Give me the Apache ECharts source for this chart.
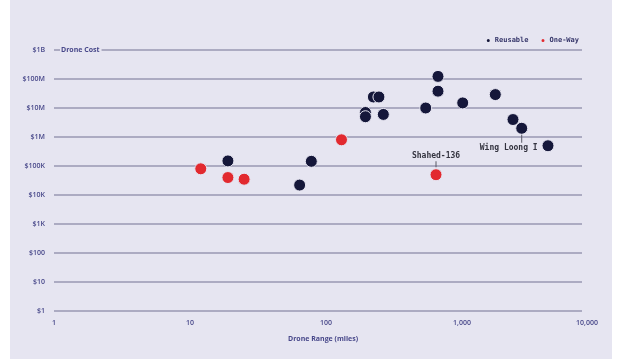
<!DOCTYPE html>
<html>
<head>
<meta charset="utf-8">
<script src="https://cdn.jsdelivr.net/npm/echarts@6/dist/echarts.min.js"></script>
<style>
  html, body { margin: 0; padding: 0; background: #ffffff; }
  #c { width: 624px; height: 359px;
       background: linear-gradient(to right, #ffffff 0, #ffffff 10px, #e6e5f1 10px, #e6e5f1 612px, #ffffff 612px); }
</style>
</head>
<body>
<div id="c"></div>
<script>
// ---- data ----
const reusableRange = [19, 64, 78, 223, 245, 195, 195, 264, 541, 666, 666, 1012, 1758, 2371, 2748, 4288];
const reusableCost  = [150000, 22000, 145000, 24000000, 24000000, 7000000, 5000000, 6000000, 10000000, 123000000, 38000000, 15000000, 29000000, 4000000, 2000000, 500000];
const reusableNames = ['', '', '', '', '', '', '', '', '', '', '', '', '', '', 'Wing Loong I', ''];

const oneWayRange = [12, 19, 25, 130, 644];
const oneWayCost  = [80000, 40000, 35000, 800000, 50000];
const oneWayNames = ['', '', '', '', 'Shahed-136'];

const xTickLabels = ['1', '10', '100', '1,000', '10,000'];
const yTickLabels = ['$1', '$10', '$100', '$1K', '$10K', '$100K', '$1M', '$10M', '$100M', '$1B'];

const seriesNames = ['Reusable', 'One-Way'];
const xAxisTitle = 'Drone Range (miles)';
const yAxisTitle = 'Drone Cost';

// ---- styles ----
const BG = '#e6e5f1';
const NAVY = '#15173a';
const RED = '#e2292f';
const TXT = '#48488a';
const GRID = '#acabc2';
const MONO = '"DejaVu Sans Mono", "Liberation Mono", monospace';
const SANS = '"Open Sans", "Noto Sans", sans-serif';

const annRich = {
  l: { width: 1, height: 8, backgroundColor: '#5a5a66' },
  t: { fontFamily: MONO, fontSize: 8, color: '#33333f', fontWeight: 'bold', lineHeight: 10 },
  tw: { fontFamily: MONO, fontSize: 8, color: '#33333f', fontWeight: 'bold', lineHeight: 10, padding: [0, 26, 0, 0] },
  ls: { width: 1, height: 6, backgroundColor: '#5a5a66' }
};

function buildData(rangeArr, costArr, names, below) {
  return rangeArr.map((x, i) => {
    const item = { value: [x, costArr[i]] };
    if (names[i]) {
      item.label = below ? {
        show: true, position: 'bottom', distance: 0,
        formatter: '{l|}\n{tw|' + names[i] + '}', rich: annRich
      } : {
        show: true, position: 'top', distance: 1,
        formatter: '{t|' + names[i] + '}\n{ls|}', rich: annRich
      };
    }
    return item;
  });
}

const chart = echarts.init(document.getElementById('c'), null, { renderer: 'canvas' });
chart.setOption({
  backgroundColor: 'transparent',
  animation: false,
  legend: {
    right: 40, top: 32,
    icon: 'circle', itemWidth: 5, itemHeight: 5, itemGap: 11,
    textStyle: { fontFamily: MONO, fontSize: 7, fontWeight: 'bold', color: '#36366a', padding: [0, 0, 0, -1] },
    data: seriesNames
  },
  grid: [
    { left: 54, right: 42, top: 50, bottom: 48 },
    { left: 54, right: 26, top: 50, bottom: 48 }
  ],
  xAxis: [
    { gridIndex: 0, type: 'log', min: 1, max: 10000, show: false },
    {
      gridIndex: 1, type: 'log', min: 1, max: 10000,
      axisLine: { show: false }, axisTick: { show: false }, splitLine: { show: false },
      axisLabel: {
        margin: 8, fontFamily: SANS, fontSize: 7, fontWeight: 600, color: TXT,
        alignMaxLabel: 'right',
        formatter: v => xTickLabels[Math.round(Math.log10(v))]
      },
      name: xAxisTitle, nameLocation: 'middle', nameGap: 24,
      nameTextStyle: { fontFamily: SANS, fontSize: 7, fontWeight: 700, color: TXT, padding: [0, 6, 0, 0] }
    }
  ],
  yAxis: [
    {
      gridIndex: 0, type: 'log', min: 1, max: 1e9,
      axisLine: { show: false }, axisTick: { show: false },
      splitLine: { show: true, lineStyle: { color: GRID, width: 2 } },
      axisLabel: {
        margin: 9, fontFamily: SANS, fontSize: 7, fontWeight: 600, color: TXT,
        formatter: v => yTickLabels[Math.round(Math.log10(v))]
      },
      name: '{a|}{b|' + yAxisTitle + '}', nameLocation: 'end', nameGap: 0,
      nameTextStyle: {
        align: 'left', verticalAlign: 'middle',
        rich: {
          a: { width: 6, height: 8 },
          b: { fontFamily: SANS, fontSize: 7, fontWeight: 700, color: TXT, backgroundColor: BG, padding: [1, 2, 1, 1] }
        }
      },
      z: 1
    },
    { gridIndex: 1, type: 'log', min: 1, max: 1e9, show: false }
  ],
  series: [
    {
      name: seriesNames[0], type: 'scatter', xAxisIndex: 1, yAxisIndex: 1,
      symbolSize: 12,
      itemStyle: { color: NAVY, borderColor: BG, borderWidth: 1, opacity: 1 },
      emphasis: { disabled: true },
      data: buildData(reusableRange, reusableCost, reusableNames, true),
      z: 3
    },
    {
      name: seriesNames[1], type: 'scatter', xAxisIndex: 1, yAxisIndex: 1,
      symbolSize: 12,
      itemStyle: { color: RED, borderColor: BG, borderWidth: 1, opacity: 1 },
      emphasis: { disabled: true },
      data: buildData(oneWayRange, oneWayCost, oneWayNames, false),
      z: 3
    }
  ]
});
</script>
</body>
</html>
